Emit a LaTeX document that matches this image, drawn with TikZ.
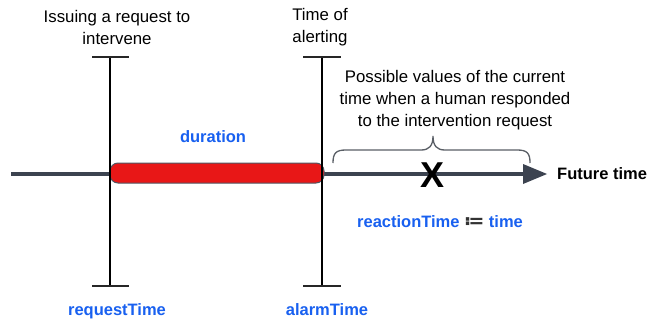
\documentclass[tikz,border=0pt]{standalone}
\usepackage{fontspec}
\setmainfont{Liberation Sans}
\newfontfamily\symfont{DejaVu Sans}
\definecolor{axisgray}{HTML}{3C4350}
\definecolor{labelblue}{HTML}{1860F0}
\definecolor{barred}{HTML}{E81717}
\definecolor{bracegray}{HTML}{5A5F66}
\begin{document}
\begin{tikzpicture}[x=1pt,y=-1pt,
  plain/.style={font=\fontsize{16.8}{22}\selectfont, align=center, inner sep=0pt},
  bluelabel/.style={font=\fontsize{16.5}{20}\selectfont\bfseries, text=labelblue, inner sep=0pt},
  vline/.style={line width=1.3pt, black},
  tick/.style={line width=2pt, black!85},
]
\useasboundingbox (0,0) rectangle (647,324);
\fill[white] (0,0) rectangle (647,324);

% coordinates
\coordinate (start) at (11,174);
\coordinate (head) at (524,174);
\coordinate (tip) at (547,174);
\coordinate (rqtop) at (110,57);
\coordinate (rqbot) at (110,286);
\coordinate (altop) at (322,57);
\coordinate (albot) at (322,286);

% timeline
\draw[line width=4pt, axisgray] (start) -- (head);
\fill[axisgray] (523,164) -- (tip) -- (523,184) -- cycle;

% red bar
\node[draw=axisgray!90, line width=1pt, fill=barred, rounded corners=8pt,
  minimum width=214pt, minimum height=20pt, inner sep=0pt] (bar) at (217,173) {};

% vertical markers
\draw[vline] (rqtop) -- (rqbot);
\draw[vline] (altop) -- (albot);
\draw[tick, line width=1.6pt] (92,57) -- (129,57);
\draw[tick] (92,286) -- (129,286);
\draw[tick, line width=1.6pt] (303,57) -- (341,57);
\draw[tick] (303,286) -- (341,286);

% brace
\draw[bracegray, line width=1.3pt]
  (333,163) .. controls (333,153) and (336,150) .. (346,150) -- (421,150)
  .. controls (429,150) and (433,146) .. (433,136)
  .. controls (433,146) and (437,150) .. (445,150) -- (517,150)
  .. controls (527,150) and (530,153) .. (530,163);

% texts
\node[plain] (issue) at (117,27) {Issuing a request to\\intervene};
\node[plain] (alert) at (320,27) {Time of\\alerting};
\node[plain] (possible) at (455,100) {Possible values of the current\\time when a human responded\\to the intervention request};
\node[bluelabel] (dur) at (213,137) {duration};
\node[font=\fontsize{36}{40}\selectfont\bfseries, inner sep=0pt] (x) at (432,175) {X};
\node[font=\fontsize{16.5}{20}\selectfont\bfseries, anchor=west, inner sep=0pt] (future) at (557,174) {Future time};
\node[bluelabel] (react) at (440,222) {reactionTime {\color{black!80}\fontsize{19}{20}\selectfont\symfont\bfseries ≔} time};
\node[bluelabel] (reqt) at (117,311) {requestTime};
\node[bluelabel] (alarmt) at (327,310) {alarmTime};
\end{tikzpicture}
\end{document}
